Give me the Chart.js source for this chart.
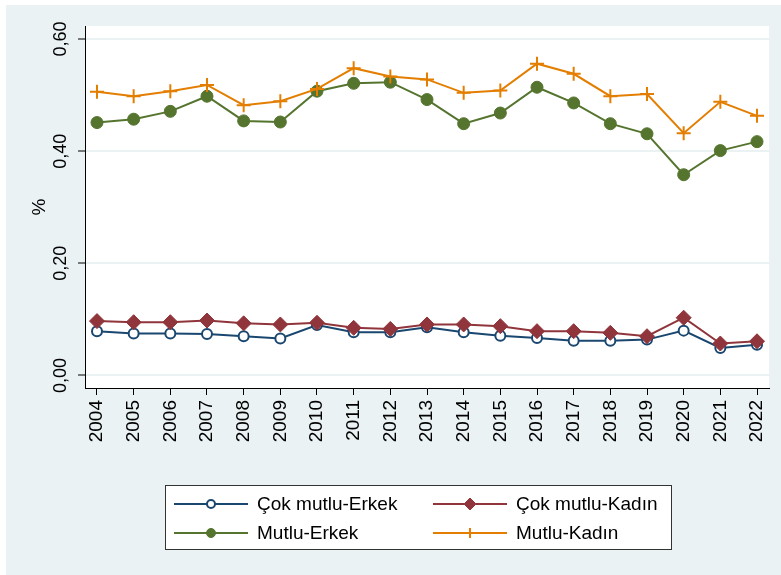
<!DOCTYPE html>
<html>
<head>
<meta charset="utf-8">
<script src="https://cdn.jsdelivr.net/npm/chart.js@4/dist/chart.umd.min.js"></script>
<style>
  body { margin: 0; background: #ffffff; }
</style>
</head>
<body>
<canvas id="grafik" width="781" height="575"></canvas>
<script>
// yillar ve seriler
var yillar = [2004, 2005, 2006, 2007, 2008, 2009, 2010, 2011, 2012, 2013, 2014, 2015, 2016, 2017, 2018, 2019, 2020, 2021, 2022];
var cokMutluErkek = [0.079, 0.075, 0.075, 0.074, 0.070, 0.066, 0.090, 0.077, 0.077, 0.086, 0.077, 0.071, 0.067, 0.062, 0.062, 0.064, 0.080, 0.049, 0.055];
var cokMutluKadin = [0.097, 0.095, 0.095, 0.098, 0.093, 0.091, 0.094, 0.085, 0.083, 0.091, 0.091, 0.088, 0.079, 0.079, 0.076, 0.070, 0.103, 0.057, 0.061];
var mutluErkek = [0.451, 0.457, 0.471, 0.498, 0.454, 0.452, 0.507, 0.521, 0.523, 0.492, 0.449, 0.468, 0.514, 0.486, 0.449, 0.431, 0.358, 0.401, 0.417];
var mutluKadin = [0.506, 0.498, 0.507, 0.518, 0.482, 0.489, 0.511, 0.548, 0.533, 0.528, 0.504, 0.508, 0.556, 0.538, 0.498, 0.502, 0.432, 0.488, 0.463];
var yTikler = [0, 0.2, 0.4, 0.6];
var etiketler = ['Çok mutlu-Erkek', 'Çok mutlu-Kadın', 'Mutlu-Erkek', 'Mutlu-Kadın'];

var font = '"Liberation Sans", Arial, sans-serif';

function noktalar(seri) {
    return seri.map(function (v, i) { return { x: yillar[i], y: v }; });
}

// arka plan: gri cerceve + beyaz cizim alani
var arkaPlan = {
    id: 'arkaPlan',
    beforeDraw: function (chart) {
        var ctx = chart.ctx, a = chart.chartArea;
        ctx.save();
        ctx.fillStyle = '#ffffff';
        ctx.fillRect(0, 0, chart.width, chart.height);
        ctx.fillStyle = '#EAF2F3';
        ctx.fillRect(6, 5, chart.width - 6, chart.height - 5);
        ctx.fillStyle = '#ffffff';
        ctx.fillRect(a.left, a.top, a.right - a.left, a.bottom - a.top);
        ctx.restore();
    }
};

// Stata tarzi kutulu lejant
var lejant = {
    id: 'lejant',
    afterDraw: function (chart) {
        var ctx = chart.ctx;
        ctx.save();
        ctx.fillStyle = '#ffffff';
        ctx.fillRect(165, 485, 506, 64);
        ctx.strokeStyle = '#333333';
        ctx.lineWidth = 1;
        ctx.strokeRect(165.5, 485.5, 506, 64);
        var yer = [[174, 504], [433, 504], [174, 533], [433, 533]];
        var boy = [4, 6, 4.5, 5];
        chart.data.datasets.forEach(function (ds, i) {
            var x = yer[i][0], y = yer[i][1];
            ctx.strokeStyle = ds.borderColor;
            ctx.lineWidth = 2;
            ctx.beginPath();
            ctx.moveTo(x, y);
            ctx.lineTo(x + 74, y);
            ctx.stroke();
            ctx.fillStyle = ds.pointBackgroundColor;
            ctx.strokeStyle = ds.pointBorderColor;
            ctx.lineWidth = ds.pointBorderWidth;
            Chart.helpers.drawPoint(ctx, { pointStyle: ds.pointStyle, radius: boy[i], rotation: 0, borderWidth: ds.pointBorderWidth }, x + 37, y);
            ctx.fillStyle = '#000000';
            ctx.font = '19px ' + font;
            ctx.textBaseline = 'middle';
            ctx.textAlign = 'left';
            ctx.fillText(ds.label, x + 83, y + 1);
        });
        ctx.restore();
    }
};

new Chart(document.getElementById('grafik'), {
    type: 'line',
    data: {
        datasets: [
            {
                label: etiketler[0],
                data: noktalar(cokMutluErkek),
                borderColor: '#1A476F',
                borderWidth: 2,
                pointStyle: 'circle',
                pointRadius: 5,
                pointBackgroundColor: '#ffffff',
                pointBorderColor: '#1A476F',
                pointBorderWidth: 2,
                order: 4
            },
            {
                label: etiketler[1],
                data: noktalar(cokMutluKadin),
                borderColor: '#90353B',
                borderWidth: 2,
                pointStyle: 'rectRot',
                pointRadius: 7.5,
                pointBackgroundColor: '#90353B',
                pointBorderColor: '#90353B',
                pointBorderWidth: 1,
                order: 3
            },
            {
                label: etiketler[2],
                data: noktalar(mutluErkek),
                borderColor: '#55752F',
                borderWidth: 2,
                pointStyle: 'circle',
                pointRadius: 6,
                pointBackgroundColor: '#55752F',
                pointBorderColor: '#55752F',
                pointBorderWidth: 1,
                order: 2
            },
            {
                label: etiketler[3],
                data: noktalar(mutluKadin),
                borderColor: '#E37E00',
                borderWidth: 2,
                pointStyle: 'cross',
                pointRadius: 7,
                pointBackgroundColor: '#E37E00',
                pointBorderColor: '#E37E00',
                pointBorderWidth: 2,
                order: 1
            }
        ]
    },
    options: {
        responsive: false,
        animation: false,
        devicePixelRatio: 1,
        layout: { padding: { left: 0, top: 26, right: 12, bottom: 0 } },
        plugins: {
            legend: { display: false },
            tooltip: { enabled: false }
        },
        elements: { line: { tension: 0 } },
        scales: {
            x: {
                type: 'linear',
                position: 'bottom',
                min: 2003.673,
                max: 2022.327,
                afterBuildTicks: function (s) { s.ticks = yillar.map(function (v) { return { value: v }; }); },
                afterFit: function (s) { s.height = 187; s.paddingLeft = 0; s.paddingRight = 0; },
                grid: { drawOnChartArea: false, drawTicks: true, tickLength: 7, tickColor: '#000000', tickWidth: 1 },
                border: { color: '#000000', width: 1 },
                ticks: {
                    minRotation: 90,
                    maxRotation: 90,
                    autoSkip: false,
                    padding: 5,
                    color: '#000000',
                    font: { family: font, size: 19 },
                    callback: function (v) { return String(v); }
                }
            },
            y: {
                type: 'linear',
                min: -0.0223,
                max: 0.6232,
                afterBuildTicks: function (s) { s.ticks = yTikler.map(function (v) { return { value: v }; }); },
                afterFit: function (s) { s.width = 85; s.paddingTop = 0; s.paddingBottom = 0; },
                grid: { color: '#EAF2F3', lineWidth: 2, tickLength: 7, tickColor: '#000000', tickWidth: 1 },
                border: { color: '#000000', width: 1 },
                title: {
                    display: true,
                    text: '%',
                    color: '#000000',
                    font: { family: font, size: 19 },
                    padding: { top: 28, bottom: 0 }
                },
                ticks: {
                    minRotation: 90,
                    maxRotation: 90,
                    crossAlign: 'center',
                    padding: -1,
                    color: '#000000',
                    font: { family: font, size: 18 },
                    callback: function (v) { return v.toFixed(2).replace('.', ','); }
                }
            }
        }
    },
    plugins: [arkaPlan, lejant]
});
</script>
</body>
</html>
